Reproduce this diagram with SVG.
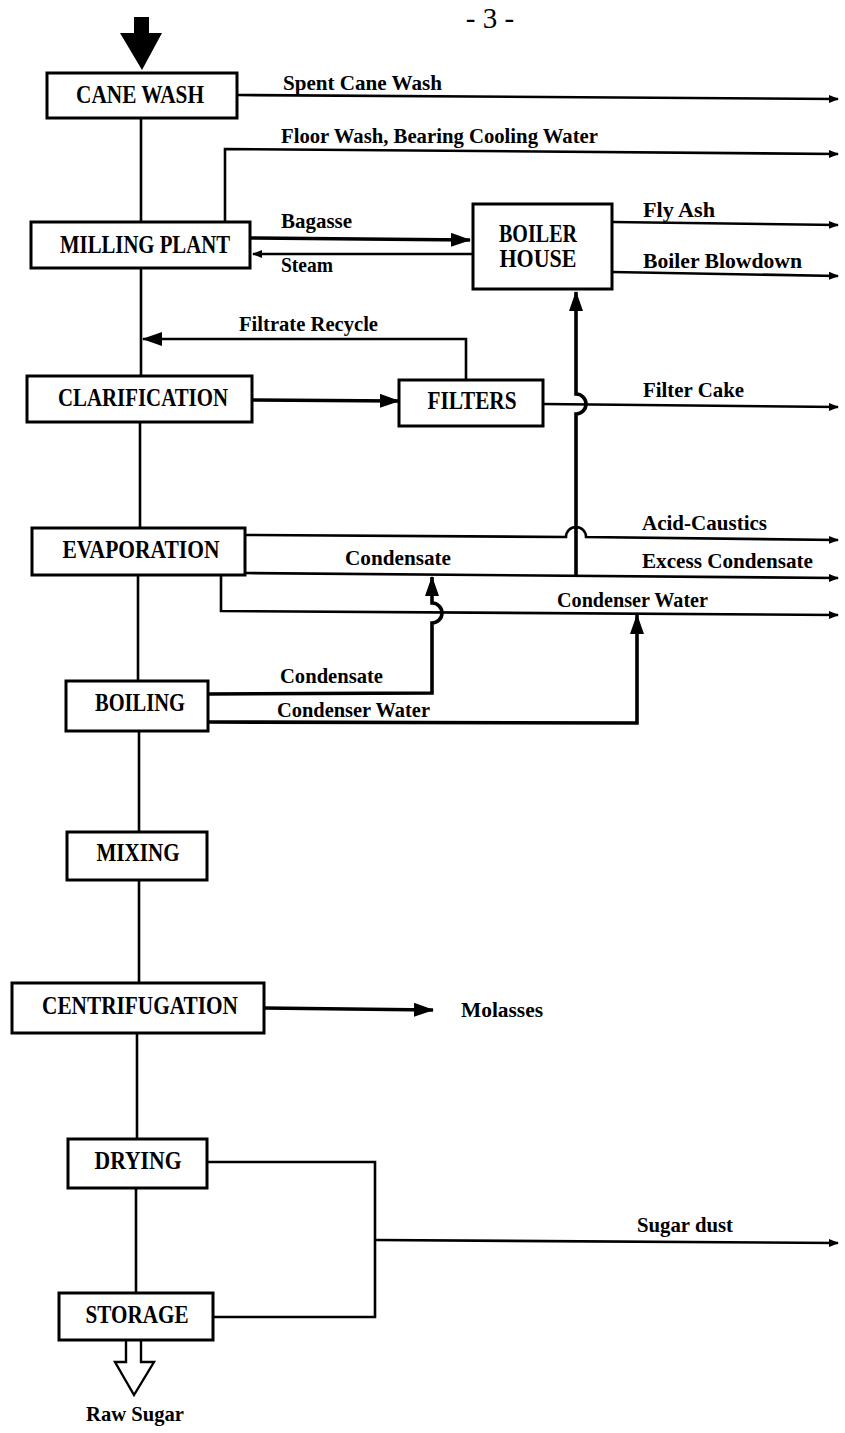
<svg xmlns="http://www.w3.org/2000/svg" width="845" height="1433" viewBox="0 0 845 1433">
<style>
.box{fill:#fff;stroke:#000;stroke-width:3}
.ln{fill:none;stroke:#000;stroke-width:2.6}
.thk{fill:none;stroke:#000;stroke-width:3.6}
.bt{font-family:"Liberation Serif",serif;font-weight:bold;font-size:25px;fill:#000}
.lb{font-family:"Liberation Serif",serif;font-weight:bold;font-size:22px;fill:#000}
</style>
<defs>
<marker id="ah" markerWidth="10" markerHeight="10" refX="9" refY="5" orient="auto" markerUnits="userSpaceOnUse">
<path d="M0,1 L10,5 L0,9 Z" fill="#000"/>
</marker>
<marker id="ahb" markerWidth="20" markerHeight="14" refX="19" refY="7" orient="auto" markerUnits="userSpaceOnUse">
<path d="M0,0 L20,7 L0,14 Z" fill="#000"/>
</marker>
</defs>

<text x="490" y="28" text-anchor="middle" font-family="Liberation Serif, serif" font-size="29" fill="#000">- 3 -</text>

<g id="connectors">
<!-- input arrow -->
<path d="M134,17 H149 V33 H162 L142,70 L120,33 H134 Z" fill="#000"/>
<!-- main vertical line -->
<path class="ln" d="M141,118 V222"/>
<path class="ln" d="M141,268 V375"/>
<path class="ln" d="M140,422 V528"/>
<path class="ln" d="M138,575 V681"/>
<path class="ln" d="M139,731 V832"/>
<path class="ln" d="M139,880 V983"/>
<path class="ln" d="M137,1033 V1139"/>
<path class="ln" d="M136,1188 V1293"/>
<!-- cane wash -->
<path class="ln" d="M238,95 L838,99" marker-end="url(#ah)"/>
<!-- floor wash -->
<path class="ln" d="M225,222 V149 L838,154" marker-end="url(#ah)"/>
<!-- bagasse / steam -->
<path class="thk" d="M250,238 L470,240" marker-end="url(#ahb)"/>
<path class="ln" d="M472,254 L253,254" marker-end="url(#ah)"/>
<!-- fly ash / blowdown -->
<path class="ln" d="M612,222 L838,225" marker-end="url(#ah)"/>
<path class="ln" d="M612,272 L838,276" marker-end="url(#ah)"/>
<!-- filtrate recycle -->
<path class="ln" d="M466,380 V339 H143" marker-end="url(#ahb)"/>
<!-- clarification -> filters -->
<path class="thk" d="M252,400 L399,401" marker-end="url(#ahb)"/>
<!-- filter cake -->
<path class="ln" d="M543,404 L838,407" marker-end="url(#ah)"/>
<!-- vertical to boiler house with jump over filter cake -->
<path class="thk" d="M576,577 V414 A10,10 0 0 0 576,394 V292" marker-end="url(#ahb)"/>
<!-- acid caustics with hump -->
<path class="ln" d="M245,535 L566,537 A10,10 0 0 1 586,537 L838,540" marker-end="url(#ah)"/>
<!-- condensate / excess condensate -->
<path class="ln" d="M245,573 L838,578" marker-end="url(#ah)"/>
<!-- condenser water from evaporation -->
<path class="ln" d="M221,575 V611 L838,615" marker-end="url(#ah)"/>
<!-- boiling condensate with jump -->
<path class="thk" d="M208,694 L432,693 V623 A10,10 0 0 0 432,603 V577" marker-end="url(#ahb)"/>
<!-- boiling condenser water -->
<path class="thk" d="M208,722 L637,723 V615" marker-end="url(#ahb)"/>
<!-- molasses -->
<path class="thk" d="M264,1008 L433,1010" marker-end="url(#ahb)"/>
<!-- sugar dust -->
<path class="ln" d="M207,1162 H375 V1317 H213"/>
<path class="ln" d="M375,1240 L838,1243" marker-end="url(#ah)"/>
<!-- raw sugar output -->
<path d="M126,1340 V1362 H115 L134,1395 L154,1362 H141 V1340" fill="#fff" stroke="#000" stroke-width="2.4" stroke-linejoin="miter"/>
</g>

<g id="cane_wash"><rect class="box" x="47" y="73" width="190" height="45"/><text class="bt" x="140" y="103" text-anchor="middle" textLength="128" lengthAdjust="spacingAndGlyphs">CANE WASH</text></g>
<g id="milling_plant"><rect class="box" x="31" y="222" width="219" height="46"/><text class="bt" x="145" y="253" text-anchor="middle" textLength="170" lengthAdjust="spacingAndGlyphs">MILLING PLANT</text></g>
<g id="boiler_house"><rect class="box" x="473" y="204" width="139" height="85"/><text class="bt" x="538" y="242" text-anchor="middle" textLength="78" lengthAdjust="spacingAndGlyphs">BOILER</text><text class="bt" x="538" y="267" text-anchor="middle" textLength="77" lengthAdjust="spacingAndGlyphs">HOUSE</text></g>
<g id="clarification"><rect class="box" x="27" y="376" width="225" height="46"/><text class="bt" x="143" y="406" text-anchor="middle" textLength="170" lengthAdjust="spacingAndGlyphs">CLARIFICATION</text></g>
<g id="filters"><rect class="box" x="399" y="380" width="144" height="46"/><text class="bt" x="472" y="409" text-anchor="middle" textLength="89" lengthAdjust="spacingAndGlyphs">FILTERS</text></g>
<g id="evaporation"><rect class="box" x="32" y="528" width="213" height="47"/><text class="bt" x="141" y="558" text-anchor="middle" textLength="157" lengthAdjust="spacingAndGlyphs">EVAPORATION</text></g>
<g id="boiling"><rect class="box" x="66" y="681" width="142" height="50"/><text class="bt" x="140" y="711" text-anchor="middle" textLength="90" lengthAdjust="spacingAndGlyphs">BOILING</text></g>
<g id="mixing"><rect class="box" x="67" y="832" width="140" height="48"/><text class="bt" x="138" y="861" text-anchor="middle" textLength="83" lengthAdjust="spacingAndGlyphs">MIXING</text></g>
<g id="centrifugation"><rect class="box" x="12" y="983" width="252" height="50"/><text class="bt" x="140" y="1014" text-anchor="middle" textLength="196" lengthAdjust="spacingAndGlyphs">CENTRIFUGATION</text></g>
<g id="drying"><rect class="box" x="68" y="1139" width="139" height="49"/><text class="bt" x="138" y="1169" text-anchor="middle" textLength="87" lengthAdjust="spacingAndGlyphs">DRYING</text></g>
<g id="storage"><rect class="box" x="59" y="1293" width="154" height="47"/><text class="bt" x="137" y="1323" text-anchor="middle" textLength="103" lengthAdjust="spacingAndGlyphs">STORAGE</text></g>

<g id="labels">
<text class="lb" x="283" y="90" textLength="159" lengthAdjust="spacingAndGlyphs">Spent Cane Wash</text>
<text class="lb" x="281" y="143" textLength="317" lengthAdjust="spacingAndGlyphs">Floor Wash, Bearing Cooling Water</text>
<text class="lb" x="281" y="228" textLength="71" lengthAdjust="spacingAndGlyphs">Bagasse</text>
<text class="lb" x="281" y="272" textLength="52" lengthAdjust="spacingAndGlyphs">Steam</text>
<text class="lb" x="643" y="217" textLength="72" lengthAdjust="spacingAndGlyphs">Fly Ash</text>
<text class="lb" x="643" y="268" textLength="159" lengthAdjust="spacingAndGlyphs">Boiler Blowdown</text>
<text class="lb" x="239" y="331" textLength="139" lengthAdjust="spacingAndGlyphs">Filtrate Recycle</text>
<text class="lb" x="643" y="397" textLength="101" lengthAdjust="spacingAndGlyphs">Filter Cake</text>
<text class="lb" x="642" y="530" textLength="125" lengthAdjust="spacingAndGlyphs">Acid-Caustics</text>
<text class="lb" x="345" y="565" textLength="106" lengthAdjust="spacingAndGlyphs">Condensate</text>
<text class="lb" x="642" y="568" textLength="171" lengthAdjust="spacingAndGlyphs">Excess Condensate</text>
<text class="lb" x="557" y="607" textLength="151" lengthAdjust="spacingAndGlyphs">Condenser Water</text>
<text class="lb" x="280" y="683" textLength="103" lengthAdjust="spacingAndGlyphs">Condensate</text>
<text class="lb" x="277" y="717" textLength="153" lengthAdjust="spacingAndGlyphs">Condenser Water</text>
<text class="lb" x="461" y="1017" textLength="82" lengthAdjust="spacingAndGlyphs">Molasses</text>
<text class="lb" x="637" y="1232" textLength="96" lengthAdjust="spacingAndGlyphs">Sugar dust</text>
<text class="lb" x="86" y="1421" textLength="98" lengthAdjust="spacingAndGlyphs">Raw Sugar</text>
</g>
</svg>
